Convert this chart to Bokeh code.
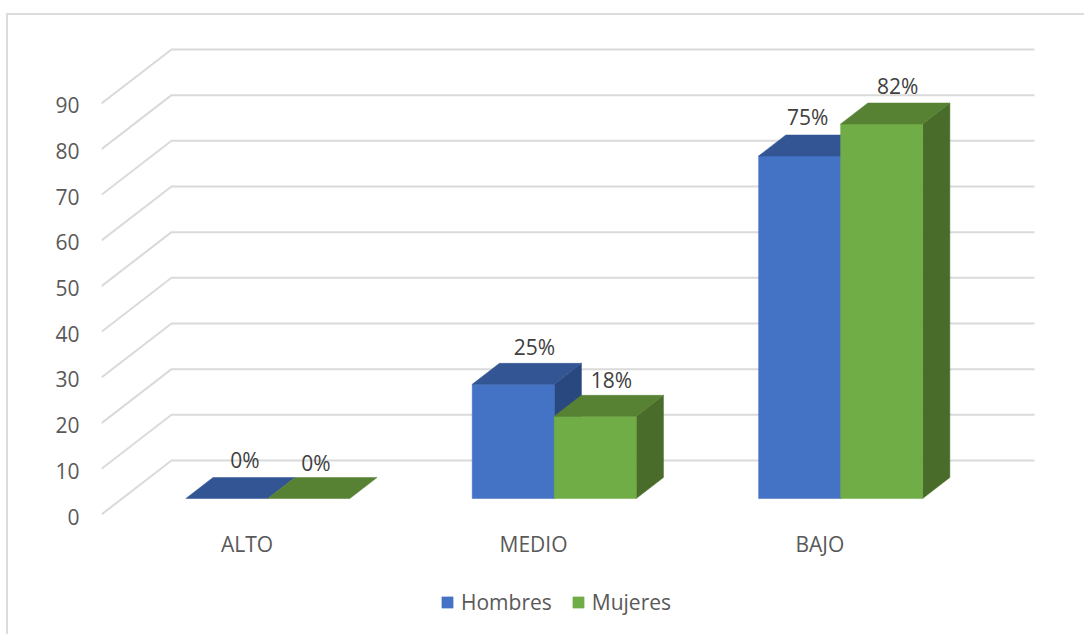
from bokeh.plotting import figure
from bokeh.embed import file_html
from bokeh.resources import INLINE
from bokeh.models import FixedTicker, Legend, LegendItem, ColumnDataSource, Range1d
from bokeh.core.properties import value

categories = ["ALTO", "MEDIO", "BAJO"]
hombres = [0, 25, 75]
mujeres = [0, 18, 82]
y_ticks = [0, 10, 20, 30, 40, 50, 60, 70, 80, 90]

# per-label nudges (screen px) for the data labels, as placed in the original
hombres_nudge = [(4.5, -18), (7.5, -16), (-5.5, -18)]
mujeres_nudge = [(-6.5, -15), (2.5, -15), (2.5, -17)]

PX_CAT = 286.4
PX_VAL = 4.567
DX = 70 / PX_CAT    # floor depth in category units
DY = 54 / PX_VAL    # floor depth in value units
D0, D1 = 0.296, 0.685   # bar front/back depth fractions
BAR = 82 / PX_CAT

FONT = "Open Sans"
GREY = "#595959"

LEFT, TOP = 6, 13          # outer box position in the window
BORDER = 2
OX, OY = LEFT + BORDER, TOP + BORDER   # origin of the canvas in the window
FRAME_L, FRAME_R, FRAME_T, FRAME_B = 101, 1040, 20, 634
W, H = 1078, 621
FIRST_CAT_PX = 103.4       # window x of the first category's left edge

x0 = (FRAME_L - FIRST_CAT_PX) / PX_CAT
x1 = (FRAME_R - FIRST_CAT_PX) / PX_CAT
y0 = (514 - FRAME_B) / PX_VAL
y1 = (514 - FRAME_T) / PX_VAL

p = figure(
    width=W, height=H, output_backend="svg", toolbar_location=None,
    x_range=(x0, x1),
    y_range=(y0, y1),
    frame_width=FRAME_R - FRAME_L, frame_height=FRAME_B - FRAME_T,
    min_border_left=FRAME_L - OX, min_border_top=FRAME_T - OY,
    min_border_right=1084 - FRAME_R, min_border_bottom=0,
    styles={"position": "absolute", "left": f"{LEFT}px", "top": f"{TOP}px",
            "border-top": f"{BORDER}px solid #dcdcdc", "border-left": f"{BORDER}px solid #dcdcdc",
            "box-sizing": "border-box"},
)
p.background_fill_color = None
p.border_fill_color = None
p.outline_line_color = None
p.grid.visible = False

# value axis: its range sits 2px lower than the wall's, as the tick labels do in the original
shift = 2 / PX_VAL
p.extra_y_ranges = {"ticks": Range1d(y0 + shift, y1 + shift)}
p.yaxis.y_range_name = "ticks"
p.yaxis.ticker = FixedTicker(ticks=y_ticks)
p.yaxis.axis_line_color = None
p.yaxis.major_tick_line_color = None
p.yaxis.minor_tick_line_color = None
p.yaxis.major_label_standoff = 16
p.yaxis.major_label_text_font = FONT
p.yaxis.major_label_text_font_size = "21px"
p.yaxis.major_label_text_color = GREY

# category axis, fixed at the front edge of the floor
p.xaxis.fixed_location = 0
p.xaxis.ticker = FixedTicker(ticks=[i + 0.5 for i in range(len(categories))])
p.xaxis.major_label_overrides = {i + 0.5: c for i, c in enumerate(categories)}
p.xaxis.axis_line_color = None
p.xaxis.major_tick_line_color = None
p.xaxis.minor_tick_line_color = None
p.xaxis.major_label_standoff = 9
p.xaxis.major_label_text_font = FONT
p.xaxis.major_label_text_font_size = "21px"
p.xaxis.major_label_text_color = GREY

# wall and floor gridlines
xend = (1034 - FIRST_CAT_PX) / PX_CAT
grid_x = [[x0, x0 + DX, xend] for _ in y_ticks]
grid_y = [[v, v + DY, v + DY] for v in y_ticks]
p.multi_line(grid_x, grid_y, line_color="#dadada", line_width=2)


def bar_faces(xc, v, left):
    x0 = xc - BAR if left else xc
    x1 = x0 + BAR
    ax, bx = DX * D0, DX * D1
    ay, by = DY * D0, DY * D1
    front = ([x0 + ax, x1 + ax, x1 + ax, x0 + ax], [ay, ay, v + ay, v + ay])
    top = ([x0 + ax, x1 + ax, x1 + bx, x0 + bx], [v + ay, v + ay, v + by, v + by])
    side = ([x1 + ax, x1 + bx, x1 + bx, x1 + ax], [ay, by, v + by, v + ay])
    return front, top, side


def draw_series(values, left, c_front, c_top, c_side):
    r = None
    for i, v in enumerate(values):
        front, top, side = bar_faces(i + 0.5, v, left)
        if v > 0:
            p.patch(*side, fill_color=c_side, line_color=c_side, line_alpha=0.5, line_width=1)
            r = p.patch(*front, fill_color=c_front, line_color=c_front, line_alpha=0.5, line_width=1)
        p.patch(*top, fill_color=c_top, line_color=c_top, line_alpha=0.5, line_width=1)
    return r


r_h = draw_series(hombres, True, "#4472c4", "#335593", "#2a4880")
r_m = draw_series(mujeres, False, "#70ad47", "#578233", "#4a6c2a")


def labels(values, left, nudges):
    xs, ys, tx, xo, yo = [], [], [], [], []
    for i, v in enumerate(values):
        bx0 = i + 0.5 - BAR if left else i + 0.5
        xs.append(bx0 + BAR / 2 + DX * (D0 + D1) / 2)
        ys.append(v + DY * D1)
        tx.append(f"{v}%")
        xo.append(nudges[i][0])
        yo.append(nudges[i][1])
    src = ColumnDataSource(dict(x=xs, y=ys, t=tx, xo=xo, yo=yo))
    p.text("x", "y", text="t", x_offset="xo", y_offset="yo", source=src,
           text_align="center", text_baseline="middle",
           text_font=value(FONT), text_font_size="21px", text_color="#404040")


labels(hombres, True, hombres_nudge)
labels(mujeres, False, mujeres_nudge)

legend = Legend(
    items=[LegendItem(label="Hombres", renderers=[r_h]),
           LegendItem(label="Mujeres", renderers=[r_m])],
    orientation="horizontal", location=(440 - FRAME_L, FRAME_B - 616),
    label_text_font=FONT, label_text_font_size="21px", label_text_color=GREY,
    glyph_width=14, glyph_height=14, spacing=19, label_standoff=7,
    border_line_color=None, background_fill_color=None,
    margin=0, padding=0,
)
p.add_layout(legend, "center")

open("out.html", "w").write(file_html(p, INLINE))
